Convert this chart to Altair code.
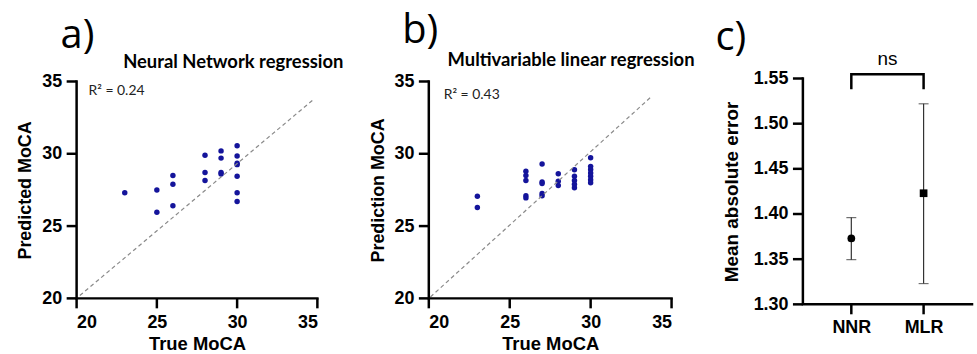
import json
import altair as alt
import pandas as pd

# ---------------- data ----------------
axis_ticks = [20, 25, 30, 35]

nn_true = [23, 25, 25, 26, 26, 26, 28, 28, 28, 29, 29, 29, 29, 30, 30, 30, 30, 30, 30, 30]
nn_pred = [27.3, 27.5, 25.95, 28.5, 27.9, 26.4, 29.9, 28.7, 28.15, 30.2, 29.7, 28.7, 28.6,
           30.55, 29.85, 29.35, 29.25, 28.45, 27.3, 26.7]
nn_ref_x = [20.2, 34.7]
nn_ref_y = [20.2, 33.7]

mlr_true = [23, 23, 26, 26, 26, 26, 26, 27, 27, 27, 27, 27, 28, 28, 28,
            29, 29, 29, 29, 29, 30, 30, 30, 30, 30, 30, 30]
mlr_pred = [27.06, 26.28, 28.8, 28.5, 28.15, 27.1, 26.95, 29.3, 28.05, 27.95, 27.25, 27.1,
            28.62, 28.1, 27.8, 28.9, 28.45, 28.15, 27.9, 27.65,
            29.72, 29.13, 28.92, 28.67, 28.44, 28.2, 28.0]
mlr_ref_x = [20.1, 33.7]
mlr_ref_y = [20.1, 33.9]

models = ["NNR", "MLR"]
model_idx = [0, 1]
mae_mean = [1.373, 1.423]
mae_low = [1.3495, 1.323]
mae_high = [1.396, 1.522]
mae_ticks = [1.30, 1.35, 1.40, 1.45, 1.50, 1.55]
cat_domain = [-0.67, 1.67]
bracket_x = [0, 0, 1, 1]
bracket_y = [1.538, 1.5547, 1.5547, 1.538]
bracket_order = [0, 1, 2, 3]

AXFONT = "Liberation Sans"
LETTERFONT = "Open Sans"
TITLEFONT = "Lato"
DOT = "#14149b"
TICK = 10
LW = 2.5

# Vega's own axis line/ticks are switched off; the frame below draws them instead.
AX = dict(domain=False, ticks=False, grid=False)


def frame(xsc, ysc, xdom, ydom, xticks, yticks):
    """Axis lines (L-shaped line) and outward ticks, drawn through the panel scales."""
    corner = pd.DataFrame({"x": [xdom[0], xdom[0], xdom[1]],
                           "y": [ydom[1], ydom[0], ydom[0]], "o": [0, 1, 2]})
    dom = alt.Chart(corner).mark_line(color="black", strokeWidth=LW, strokeJoin="miter",
                                      strokeCap="square").encode(
        x=alt.X("x:Q", scale=xsc), y=alt.Y("y:Q", scale=ysc), order="o:Q")
    xt = alt.Chart(pd.DataFrame({"x": xticks, "y": [ydom[0]] * len(xticks)})).mark_tick(
        orient="vertical", size=TICK, thickness=LW, color="black", opacity=1, yOffset=TICK / 2
    ).encode(x=alt.X("x:Q", scale=xsc), y=alt.Y("y:Q", scale=ysc))
    yt = alt.Chart(pd.DataFrame({"x": [xdom[0]] * len(yticks), "y": yticks})).mark_tick(
        orient="horizontal", size=TICK, thickness=LW, color="black", opacity=1, xOffset=-TICK / 2
    ).encode(x=alt.X("x:Q", scale=xsc), y=alt.Y("y:Q", scale=ysc))
    return [dom, xt, yt]


def scatter_panel(xs, ys, lx, ly, ytitle, title, title_xy, r2, r2_xy, letter, letter_xy,
                  width, xrange):
    dom = [axis_ticks[0], axis_ticks[-1]]
    xsc = alt.Scale(domain=dom, nice=False, zero=False, range=xrange)
    ysc = alt.Scale(domain=dom, nice=False, zero=False, range=[221, 3])
    xax = alt.Axis(values=axis_ticks, title="True MoCA", offset=-6, labelPadding=TICK + 5,
                   titlePadding=3, titleFontSize=18.5, **AX)
    yax = alt.Axis(values=axis_ticks, title=ytitle, labelPadding=TICK + 5, titlePadding=7, **AX)
    pts = alt.Chart(pd.DataFrame({"t": xs, "p": ys})).mark_circle(
        size=30, color=DOT, opacity=1
    ).encode(x=alt.X("t:Q", scale=xsc, axis=xax), y=alt.Y("p:Q", scale=ysc, axis=yax))
    ref = alt.Chart(pd.DataFrame({"t": lx, "p": ly})).mark_line(
        strokeDash=[4, 3], color="#8a8a8a", strokeWidth=1.2
    ).encode(x=alt.X("t:Q", scale=xsc), y=alt.Y("p:Q", scale=ysc))
    tdf = pd.DataFrame({"t": [title_xy[0]], "p": [title_xy[1]], "s": [title]})
    ttl = alt.Chart(tdf).mark_text(
        align="center", baseline="alphabetic", font=TITLEFONT, fontWeight="bold",
        fontSize=18.5, color="black"
    ).encode(x=alt.X("t:Q", scale=xsc), y=alt.Y("p:Q", scale=ysc), text="s:N")
    rdf = pd.DataFrame({"t": [r2_xy[0]], "p": [r2_xy[1]], "s": [r2]})
    rtx = alt.Chart(rdf).mark_text(
        align="left", baseline="alphabetic", font=TITLEFONT, fontSize=14, color="#222"
    ).encode(x=alt.X("t:Q", scale=xsc), y=alt.Y("p:Q", scale=ysc), text="s:N")
    ldf = pd.DataFrame({"t": [letter_xy[0]], "p": [letter_xy[1]], "s": [letter]})
    ltx = alt.Chart(ldf).mark_text(
        align="left", baseline="alphabetic", font=LETTERFONT, fontSize=40, color="black"
    ).encode(x=alt.X("t:Q", scale=xsc), y=alt.Y("p:Q", scale=ysc), text="s:N")
    layers = [pts, ref, ttl, rtx, ltx] + frame(xsc, ysc, dom, dom, axis_ticks, axis_ticks)
    return alt.layer(*layers).properties(width=width, height=227)


panel_a = scatter_panel(nn_true, nn_pred, nn_ref_x, nn_ref_y, "Predicted MoCA",
                        "Neural Network regression", (29.76, 35.96), "R² = 0.24", (20.74, 34.04),
                        "a)", (19.0, 37.34), 242, [0, 242])
panel_b = scatter_panel(mlr_true, mlr_pred, mlr_ref_x, mlr_ref_y, "Prediction MoCA",
                        "Multivariable linear regression", (28.79, 36.1), "R² = 0.43", (20.92, 33.76),
                        "b)", (18.36, 37.68), 264, [0, 244])

# ---------------- panel c ----------------
mdf = pd.DataFrame({"m": model_idx, "mean": mae_mean, "low": mae_low, "high": mae_high,
                    "model": models})
ydom_c = [mae_ticks[0], mae_ticks[-1]]
xsc_c = alt.Scale(domain=cat_domain, nice=False, zero=False)
ysc_c = alt.Scale(domain=ydom_c, nice=False, zero=False)
label_expr = json.dumps(models) + "[datum.value]"
xax_c = alt.Axis(values=model_idx, labelExpr=label_expr, title=None, labelAngle=0,
                 labelPadding=TICK + 4, **AX)
yax_c = alt.Axis(values=mae_ticks, format=".2f", title="Mean absolute error",
                 titleFontSize=19, titlePadding=12, labelPadding=TICK + 5, **AX)

bars = alt.Chart(mdf).mark_rule(color="#333", strokeWidth=1.2).encode(
    x=alt.X("m:Q", scale=xsc_c, axis=xax_c),
    y=alt.Y("low:Q", scale=ysc_c, axis=yax_c),
    y2="high:Q",
)
cap_lo = alt.Chart(mdf).mark_tick(orient="horizontal", size=10, thickness=1.2, color="#333").encode(
    x=alt.X("m:Q", scale=xsc_c), y=alt.Y("low:Q", scale=ysc_c)
)
cap_hi = alt.Chart(mdf).mark_tick(orient="horizontal", size=10, thickness=1.2, color="#333").encode(
    x=alt.X("m:Q", scale=xsc_c), y=alt.Y("high:Q", scale=ysc_c)
)
means = alt.Chart(mdf).mark_point(filled=True, size=60, opacity=1, color="black").encode(
    x=alt.X("m:Q", scale=xsc_c),
    y=alt.Y("mean:Q", scale=ysc_c),
    shape=alt.Shape("model:N", scale=alt.Scale(domain=models, range=["circle", "square"]), legend=None),
)
bdf = pd.DataFrame({"x": bracket_x, "y": bracket_y, "o": bracket_order})
bracket = alt.Chart(bdf).mark_line(color="black", strokeWidth=LW, strokeCap="butt").encode(
    x=alt.X("x:Q", scale=xsc_c), y=alt.Y("y:Q", scale=ysc_c), order="o:Q"
)
ns = alt.Chart(pd.DataFrame({"x": [sum(model_idx) / 2], "y": [1.5654], "s": ["ns"]})).mark_text(
    align="center", baseline="alphabetic", font=AXFONT, fontSize=19, color="black"
).encode(x=alt.X("x:Q", scale=xsc_c), y=alt.Y("y:Q", scale=ysc_c), text="s:N")
cl = alt.Chart(pd.DataFrame({"x": [-1.88], "y": [1.5819], "s": ["c)"]})).mark_text(
    align="left", baseline="alphabetic", font=LETTERFONT, fontSize=40, color="black"
).encode(x=alt.X("x:Q", scale=xsc_c), y=alt.Y("y:Q", scale=ysc_c), text="s:N")

frame_c = frame(xsc_c, ysc_c, cat_domain, ydom_c, model_idx, mae_ticks)
panel_c = alt.layer(bars, cap_lo, cap_hi, means, bracket, ns, cl, *frame_c).properties(
    width=170, height=227)

chart = alt.hconcat(panel_a, panel_b, panel_c, spacing=112, bounds="flush").properties(
    padding={"left": 16, "top": 10, "right": 0, "bottom": 0},
    background="white",
).configure_axis(
    labelFont=AXFONT, labelFontWeight="bold", labelFontSize=18, labelColor="black",
    titleFont=AXFONT, titleFontWeight="bold", titleFontSize=18, titleColor="black",
).configure_view(strokeWidth=0)

chart.save("out.html", embed_options={"renderer": "svg", "actions": False})
